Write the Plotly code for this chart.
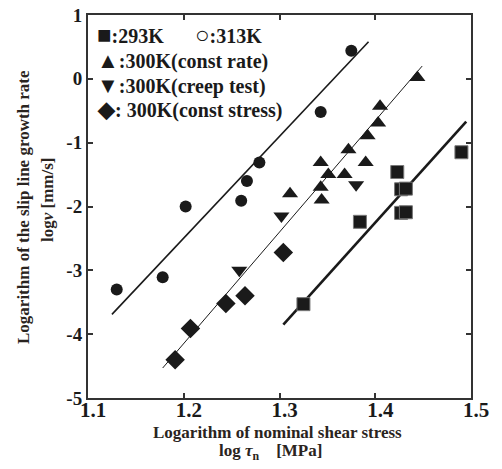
import plotly.graph_objects as go

# ---- data ----
c313_x = [1.130, 1.178, 1.202, 1.260, 1.266, 1.279, 1.343, 1.375]
c313_y = [-3.30, -3.11, -2.00, -1.91, -1.60, -1.31, -0.52, 0.44]

rate_x = [1.311, 1.343, 1.343, 1.344, 1.351, 1.368, 1.372, 1.390, 1.392, 1.403, 1.405, 1.444]
rate_y = [-1.80, -1.31, -1.70, -1.90, -1.50, -1.50, -1.11, -1.31, -0.89, -0.69, -0.43, 0.02]

creep_x = [1.258, 1.302, 1.380]
creep_y = [-3.00, -2.15, -1.66]

stress_x = [1.191, 1.207, 1.244, 1.264, 1.304]
stress_y = [-4.40, -3.91, -3.52, -3.40, -2.72]

k293_x = [1.325, 1.384, 1.423, 1.427, 1.432, 1.427, 1.432, 1.490]
k293_y = [-3.53, -2.24, -1.46, -1.73, -1.72, -2.10, -2.09, -1.15]

fit313_x = [1.125, 1.393]
fit313_y = [-3.69, 0.58]
fit300_x = [1.178, 1.449]
fit300_y = [-4.53, 0.20]
fit293_x = [1.304, 1.495]
fit293_y = [-3.85, -0.67]

x_ticks = [1.1, 1.2, 1.3, 1.4, 1.5]
y_ticks = [-5, -4, -3, -2, -1, 0, 1]

FONT = "Liberation Serif, Times New Roman, serif"
INK = "#1a1a1a"
TITLE_INK = "#2a2420"

W, H = 502, 469
L, R, T, B = 88, 31, 15, 71
pw, ph = W - L - R, H - T - B


def px_to_paper(xs, ys):
    """screen pixel -> paper coords"""
    return (xs - L) / pw, 1 - (ys - T) / ph


fig = go.Figure()

fig.add_trace(go.Scatter(x=fit313_x, y=fit313_y, mode="lines",
                         line=dict(color=INK, width=1.6), showlegend=False))
fig.add_trace(go.Scatter(x=fit300_x, y=fit300_y, mode="lines",
                         line=dict(color=INK, width=1.0), showlegend=False))
fig.add_trace(go.Scatter(x=fit293_x, y=fit293_y, mode="lines",
                         line=dict(color=INK, width=2.6), showlegend=False))

fig.add_trace(go.Scatter(x=c313_x, y=c313_y, mode="markers",
                         marker=dict(symbol="circle", size=12, color=INK), showlegend=False))
fig.add_trace(go.Scatter(x=rate_x, y=rate_y, mode="markers",
                         marker=dict(symbol="triangle-up", size=14, color=INK), showlegend=False))
fig.add_trace(go.Scatter(x=creep_x, y=creep_y, mode="markers",
                         marker=dict(symbol="triangle-down", size=14, color=INK), showlegend=False))
fig.add_trace(go.Scatter(x=stress_x, y=stress_y, mode="markers",
                         marker=dict(symbol="diamond", size=15, color=INK), showlegend=False))
fig.add_trace(go.Scatter(x=k293_x, y=k293_y, mode="markers",
                         marker=dict(symbol="square", size=13, color=INK,
                                     line=dict(color="#777", width=1)), showlegend=False))

axis_common = dict(showline=True, linecolor="#333", linewidth=2, mirror="allticks",
                   ticks="inside", ticklen=5, tickwidth=1.5, tickcolor="#333",
                   showgrid=False, zeroline=False, automargin=False)

fig.update_xaxes(range=[1.1, 1.5], tickvals=x_ticks, ticktext=[f"{v:.1f}" for v in x_ticks],
                 tickfont=dict(family=FONT, size=21, color=INK, weight="bold"),
                 ticklabelstandoff=-8, ticklabelshift=5,
                 **axis_common)
fig.update_yaxes(range=[-5, 1], tickvals=y_ticks, ticktext=[str(v) for v in y_ticks],
                 tickfont=dict(family=FONT, size=19, color=INK, weight="bold"),
                 **axis_common)

# axis titles as annotations (exact placement)
xt_font = dict(family=FONT, size=17, color=TITLE_INK, weight="bold")
yt_font = dict(family=FONT, size=17, color=TITLE_INK, weight="bold")
ax, ay = px_to_paper(277, 432)
fig.add_annotation(x=ax, y=ay, xref="paper", yref="paper",
                   text="Logarithm of nominal shear stress", showarrow=False,
                   xanchor="center", yanchor="middle", font=xt_font)
ax, ay = px_to_paper(270, 452)
fig.add_annotation(x=ax, y=ay, xref="paper", yref="paper",
                   text="log <i>τ</i><sub>n</sub>    [MPa]", showarrow=False,
                   xanchor="center", yanchor="middle", font=xt_font)
ax, ay = px_to_paper(24, 207)
fig.add_annotation(x=ax, y=ay, xref="paper", yref="paper",
                   text="Logarithm of the slip line growth rate", showarrow=False,
                   textangle=-90, xanchor="center", yanchor="middle", font=yt_font)
ax, ay = px_to_paper(47, 200)
fig.add_annotation(x=ax, y=ay, xref="paper", yref="paper",
                   text="log<i>v</i> [mm/s]", showarrow=False,
                   textangle=-90, xanchor="center", yanchor="middle", font=yt_font)

# in-plot legend text
leg_font = dict(family=FONT, size=20, color=INK, weight="bold")
legend_rows = [
    (95, 35, "<span style='font-size:24px'>■</span>:293K"),
    (193, 35, "<span style='font-size:24px'>○</span>:313K"),
    (95, 60, "<span style='font-size:22px'>▲</span>:300K(const rate)"),
    (95, 85, "<span style='font-size:22px'>▼</span>:300K(creep test)"),
    (95, 109, "<span style='font-size:22px'>◆</span>: 300K(const stress)"),
]
for xpx, ypx, txt in legend_rows:
    ax, ay = px_to_paper(xpx, ypx)
    fig.add_annotation(x=ax, y=ay, xref="paper", yref="paper",
                       text=txt, showarrow=False, xanchor="left", yanchor="middle",
                       font=leg_font)

fig.update_layout(width=W, height=H, margin=dict(l=L, r=R, t=T, b=B),
                  paper_bgcolor="white", plot_bgcolor="white")

fig.write_html("out.html", config={"displayModeBar": False},
               post_script="document.body.style.margin='0';document.body.style.overflow='hidden';")
